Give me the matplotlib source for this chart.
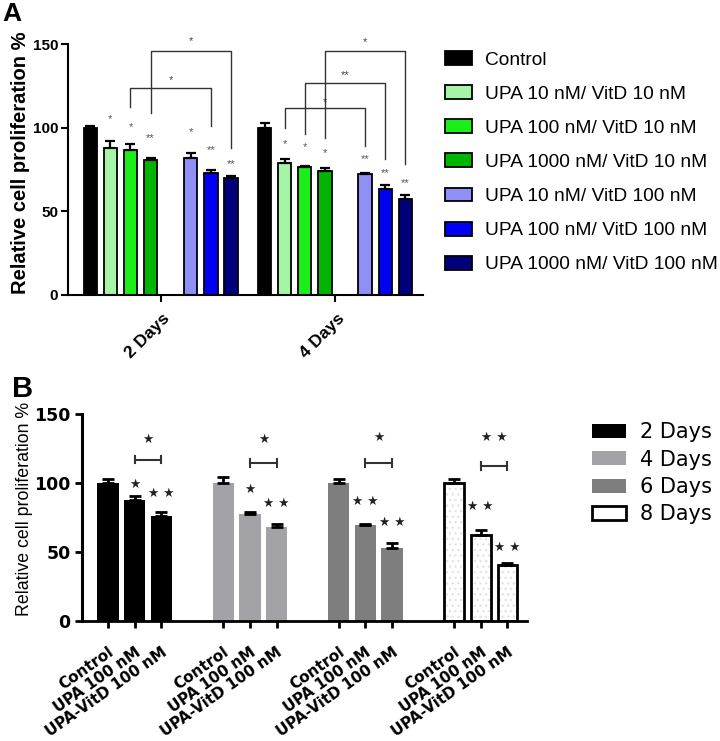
import matplotlib.pyplot as plt
import numpy as np
from matplotlib.patches import Patch
from matplotlib.transforms import ScaledTranslation

plt.rcParams['font.family'] = ['Liberation Sans', 'DejaVu Sans']

# ---- panel A data ----
a_labels = ['Control', 'UPA 10 nM/ VitD 10 nM', 'UPA 100 nM/ VitD 10 nM',
            'UPA 1000 nM/ VitD 10 nM', 'UPA 10 nM/ VitD 100 nM',
            'UPA 100 nM/ VitD 100 nM', 'UPA 1000 nM/ VitD 100 nM']
a_colors = ['#000000', '#a6f5a6', '#1aef1a', '#00b400', '#8f8ff5', '#0000f5', '#00007c']
a_days = ['2 Days', '4 Days']
a_mean = [[100, 88, 86.5, 80.5, 82, 73, 70],
          [100, 79, 76.5, 74, 72.5, 63.5, 57.5]]
a_err = [[1, 4, 3.5, 1.5, 3, 1.5, 1],
         [3, 2, 0.8, 2, 0.5, 2, 2.5]]
a_stars = [['', '*', '*', '**', '*', '**', '**'],
           ['', '*', '*', '*', '**', '**', '**']]
a_star_y = [[0, 105, 100.6, 93.7, 97.6, 86.7, 78.3],
            [0, 90.3, 88.3, 84.7, 81, 73, 67]]
# brackets: day index, from bar, to bar, left foot, top, right foot, text, text y
a_br_day = [0, 0, 1, 1, 1]
a_br_from = [2, 3, 1, 2, 3]
a_br_to = [5, 6, 4, 5, 6]
a_br_left = [112.5, 109, 99.6, 96, 93.6]
a_br_top = [123.9, 146, 111.6, 126.5, 146]
a_br_right = [101, 88, 89.2, 81, 78]
a_br_text = ['*', '*', '*', '**', '*']
a_br_text_y = [128.5, 152, 115.5, 131.5, 151]

# ---- panel B data ----
b_days = ['2 Days', '4 Days', '6 Days', '8 Days']
b_conds = ['Control', 'UPA 100 nM', 'UPA-VitD 100 nM']
b_colors = ['#000000', '#a3a3a7', '#7e7e7e', '#ffffff']
b_mean = [[100, 87.5, 76], [100, 77.5, 68], [100, 69.5, 53], [100, 62, 40.5]]
b_err = [[3, 3, 2.7], [4, 1.5, 2.4], [3, 0.5, 3.5], [3, 3.4, 1.4]]
b_stars = [['', '★', '★ ★'], ['', '★', '★ ★'], ['', '★ ★', '★ ★'], ['', '★ ★', '★ ★']]
b_star_y = [[0, 98.5, 92.4], [0, 95.3, 84.8], [0, 86.6, 71], [0, 82.5, 53.2]]
b_br_y = [116.8, 114.1, 114.1, 112.2]
b_br_text = ['★', '★', '★', '★ ★']
b_br_text_y = [131.7, 131.7, 132.6, 132.6]

fig = plt.figure(figsize=(7.2, 7.41), dpi=100)

# ================= A =================
axA = fig.add_axes([0.0944, 0.6019, 0.4931, 0.3387])
a_centers = [0, 8.67]
a_offsets = [-3.5, -2.5, -1.5, -0.5, 1.5, 2.5, 3.5]
for d in range(2):
    for i in range(7):
        x = a_centers[d] + a_offsets[i]
        axA.bar(x, a_mean[d][i], width=0.66, color=a_colors[i], edgecolor='black',
                linewidth=1.3, zorder=2)
        axA.errorbar(x, a_mean[d][i], yerr=[[0], [a_err[d][i]]], fmt='none',
                     ecolor='black', elinewidth=1.6, capsize=3.5, capthick=1.6, zorder=3)
        if a_stars[d][i]:
            axA.text(x, a_star_y[d][i], a_stars[d][i], ha='center', va='center',
                     fontsize=8, color='#555555')

for k in range(len(a_br_day)):
    xl = a_centers[a_br_day[k]] + a_offsets[a_br_from[k]]
    xr = a_centers[a_br_day[k]] + a_offsets[a_br_to[k]]
    axA.plot([xl, xl, xr, xr], [a_br_left[k], a_br_top[k], a_br_top[k], a_br_right[k]],
             color='#333333', lw=1.0, clip_on=False, zorder=4)
    axA.text((xl + xr) / 2, a_br_text_y[k], a_br_text[k], ha='center', va='center',
             fontsize=8, color='#444444', clip_on=False)

axA.set_xlim(-4.61, 13.05)
axA.set_ylim(0, 150)
axA.spines['top'].set_visible(False)
axA.spines['right'].set_visible(False)
axA.spines['left'].set_linewidth(1.5)
axA.spines['bottom'].set_linewidth(1.5)
axA.tick_params(width=1.5, length=5)
axA.tick_params(axis='y', pad=2)
axA.set_yticks([0, 50, 100, 150])
axA.set_yticklabels(['0', '50', '100', '150'], fontweight='bold', fontsize=11)
axA.set_xticks(a_centers)
axA.set_xticklabels(a_days, rotation=45, ha='right', va='center', rotation_mode='anchor',
                    fontweight='bold', fontsize=12.5)
for lbl in axA.get_xticklabels():
    lbl.set_transform(lbl.get_transform() + ScaledTranslation(0.07, -0.09, fig.dpi_scale_trans))
axA.set_ylabel('Relative cell proliferation %', fontsize=14.5, fontweight='bold')
axA.yaxis.set_label_coords(-0.106, 0.528)

fig.legend(handles=[Patch(facecolor=a_colors[i], edgecolor='black', linewidth=1.3,
                          label=a_labels[i]) for i in range(7)],
           loc='upper left', bbox_to_anchor=(0.618, 1 - 51 / 741), frameon=False,
           fontsize=13.8, handlelength=1.42, handleheight=0.74, handletextpad=0.68,
           labelspacing=0.86, borderpad=0, borderaxespad=0)

fig.text(0.003, 0.997, 'A', fontsize=19, fontweight='bold', ha='left', va='top')

# ================= B =================
axB = fig.add_axes([0.1143, 0.1623, 0.6172, 0.2794])
b_centers = [0, 4.32, 8.64, 12.96]
ticks, ticklabels = [], []
for g in range(4):
    for j in range(3):
        x = b_centers[g] + (j - 1)
        ticks.append(x)
        ticklabels.append(b_conds[j])
        if g == 3:
            axB.bar(x, b_mean[g][j], width=0.74, color='white', edgecolor='#e4e4e4',
                    hatch='...', linewidth=0, zorder=2)
            axB.bar(x, b_mean[g][j], width=0.74, color='none', edgecolor='black',
                    linewidth=2, zorder=2)
        else:
            axB.bar(x, b_mean[g][j], width=0.8, color=b_colors[g], linewidth=0, zorder=2)
        axB.errorbar(x, b_mean[g][j], yerr=[[0], [b_err[g][j]]], fmt='none',
                     ecolor='black', elinewidth=2, capsize=4, capthick=2, zorder=3)
        if b_stars[g][j]:
            axB.text(x, b_star_y[g][j], b_stars[g][j], ha='center', va='center',
                     fontsize=9, color='#222222', family='DejaVu Sans')
    xl = b_centers[g]
    xr = b_centers[g] + 1
    axB.plot([xl, xr], [b_br_y[g], b_br_y[g]], color='#333333', lw=1.5)
    axB.plot([xl, xl], [b_br_y[g] - 2.8, b_br_y[g] + 2.8], color='#333333', lw=1.5)
    axB.plot([xr, xr], [b_br_y[g] - 2.8, b_br_y[g] + 2.8], color='#333333', lw=1.5)
    axB.text((xl + xr) / 2, b_br_text_y[g], b_br_text[g], ha='center', va='center',
             fontsize=9, color='#222222', family='DejaVu Sans')

axB.set_xlim(-1.96, 14.68)
axB.set_ylim(0, 150)
axB.spines['top'].set_visible(False)
axB.spines['right'].set_visible(False)
axB.spines['left'].set_linewidth(2.2)
axB.spines['bottom'].set_linewidth(2)
axB.tick_params(width=2, length=5)
axB.set_yticks([0, 50, 100, 150])
axB.set_yticklabels(['0', '50', '100', '150'], fontweight='bold', fontsize=12.5,
                    family='DejaVu Sans')
axB.set_xticks(ticks)
axB.set_xticklabels(ticklabels, rotation=35, ha='right', va='center', rotation_mode='anchor',
                    fontweight='bold', fontsize=11, family='DejaVu Sans')
for lbl in axB.get_xticklabels():
    lbl.set_transform(lbl.get_transform() + ScaledTranslation(0.04, -0.18, fig.dpi_scale_trans))
axB.set_ylabel('Relative cell proliferation %', fontsize=12.8)
axB.yaxis.set_label_coords(-0.111, 0.54)

b_handles = []
for g in range(4):
    if g == 3:
        b_handles.append(Patch(facecolor='white', edgecolor='black', linewidth=2, label=b_days[g]))
    else:
        b_handles.append(Patch(facecolor=b_colors[g], edgecolor='none', label=b_days[g]))
fig.legend(handles=b_handles, loc='upper left', bbox_to_anchor=(0.822, 1 - 422 / 741),
           frameon=False, prop={'family': 'DejaVu Sans', 'size': 15},
           handlelength=1.63, handleheight=0.67, handletextpad=0.67,
           labelspacing=0.36, borderpad=0, borderaxespad=0)

fig.text(0.016, 0.494, 'B', fontsize=21, fontweight='bold', ha='left', va='top')

fig.savefig('out.png', dpi=100)
